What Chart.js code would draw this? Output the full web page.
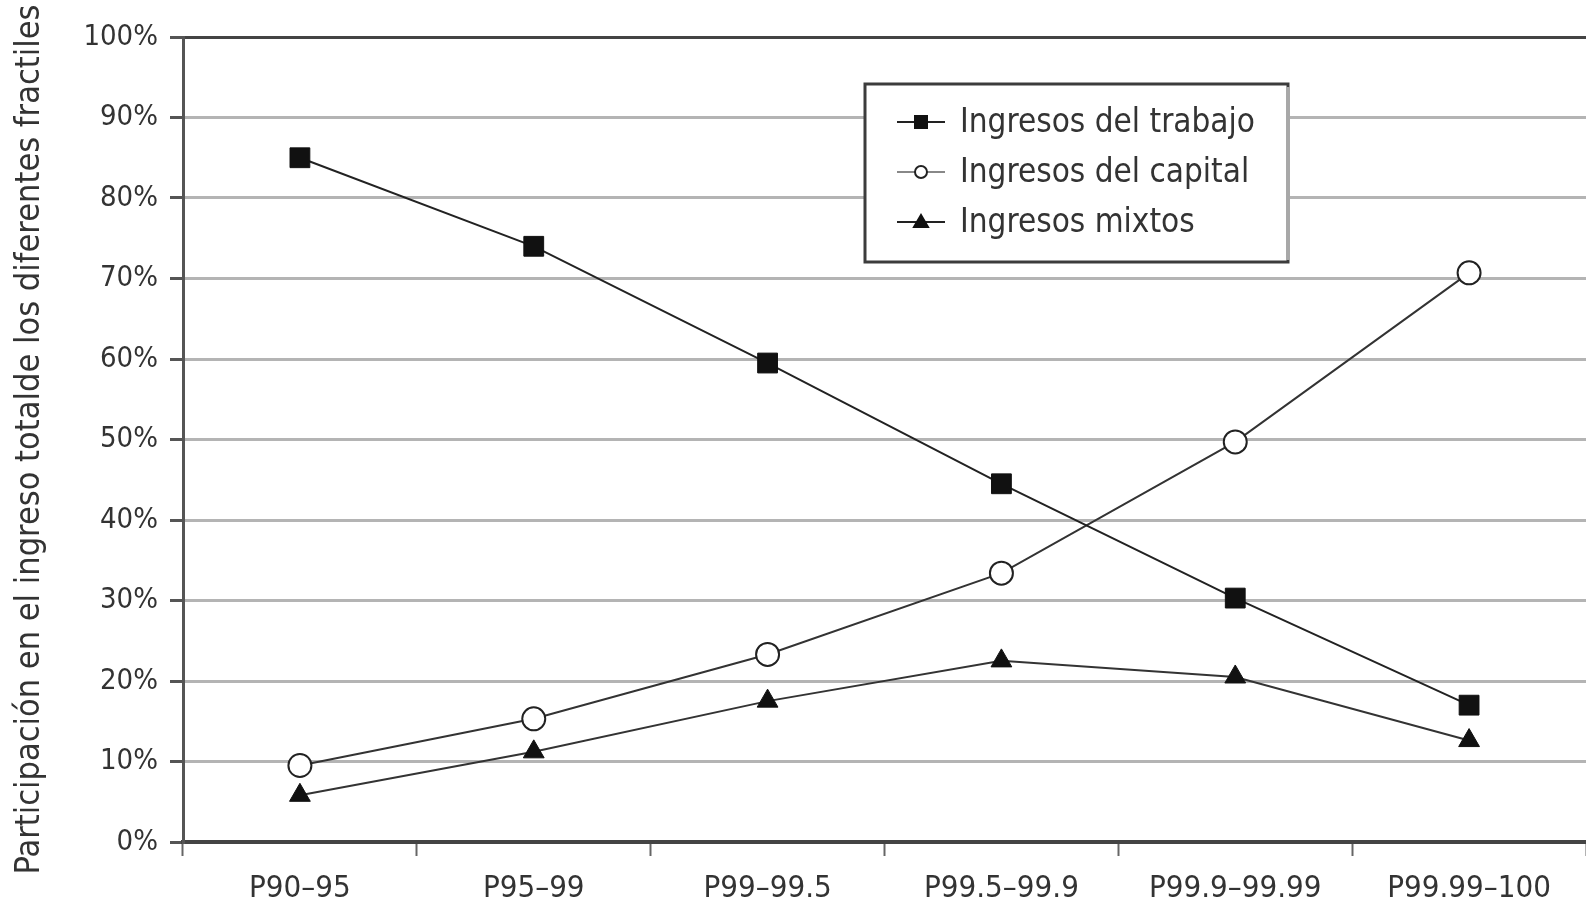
<!DOCTYPE html>
<html>
<head>
<meta charset="utf-8">
<script src="https://cdn.jsdelivr.net/npm/chart.js@4.4.1/dist/chart.umd.min.js"></script>
<style>
  html, body { margin: 0; padding: 0; background: #fff; }
  #wrap { width: 1586px; height: 901px; }
</style>
</head>
<body>
<div id="wrap"><canvas id="chart" width="1586" height="901"></canvas></div>
<script>
// data
const categories = ['P90–95', 'P95–99', 'P99–99.5', 'P99.5–99.9', 'P99.9–99.99', 'P99.99–100'];
const trabajo = [85, 74, 59.5, 44.5, 30.3, 17];
const capital = [9.5, 15.3, 23.3, 33.4, 49.7, 70.7];
const mixtos = [5.8, 11.2, 17.5, 22.5, 20.5, 12.6];
const seriesNames = ['Ingresos del trabajo', 'Ingresos del capital', 'Ingresos mixtos'];
const yTitle = 'Participación en el ingreso totalde los diferentes fractiles';

const FONT = "'DejaVu Sans Condensed', 'Liberation Sans Narrow', 'DejaVu Sans', sans-serif";
const TEXT = '#333';

// small legend box drawn inside the plot, like the original
const boxLegend = {
  id: 'boxLegend',
  afterDraw(chart) {
    const ctx = chart.ctx;
    const x0 = 865, y0 = 84, x1 = 1288, y1 = 262;
    ctx.save();
    ctx.fillStyle = '#fff';
    ctx.fillRect(x0, y0, x1 - x0, y1 - y0);
    ctx.strokeStyle = '#3c3c3c';
    ctx.lineWidth = 3;
    ctx.strokeRect(x0, y0, x1 - x0, y1 - y0);
    ctx.strokeStyle = '#a8a8a8';
    ctx.lineWidth = 4;
    ctx.beginPath();
    ctx.moveTo(x1, y0 + 3);
    ctx.lineTo(x1, y1 - 2);
    ctx.stroke();

    chart.data.datasets.forEach((ds, i) => {
      const y = 122 + i * 50;
      const cx = 921;
      ctx.strokeStyle = i === 1 ? '#888' : '#222';
      ctx.lineWidth = 2;
      ctx.beginPath();
      ctx.moveTo(897, y);
      ctx.lineTo(945, y);
      ctx.stroke();
      ctx.fillStyle = ds.pointBackgroundColor;
      ctx.strokeStyle = ds.pointBorderColor;
      ctx.lineWidth = 2;
      ctx.beginPath();
      if (ds.pointStyle === 'rect') {
        ctx.rect(cx - 6, y - 6, 12, 12);
      } else if (ds.pointStyle === 'circle') {
        ctx.arc(cx, y, 6, 0, Math.PI * 2);
      } else {
        ctx.moveTo(cx, y - 7);
        ctx.lineTo(cx + 7, y + 5);
        ctx.lineTo(cx - 7, y + 5);
        ctx.closePath();
      }
      ctx.fill();
      ctx.stroke();

      ctx.fillStyle = TEXT;
      ctx.font = '33px ' + FONT;
      ctx.textBaseline = 'middle';
      ctx.textAlign = 'left';
      ctx.fillText(ds.label, 960, y + 1);
    });
    ctx.restore();
  }
};

const ctx = document.getElementById('chart').getContext('2d');
new Chart(ctx, {
  type: 'line',
  data: {
    labels: categories,
    datasets: [
      {
        label: seriesNames[0],
        data: trabajo,
        borderColor: '#222',
        borderWidth: 2,
        pointStyle: 'rect',
        pointRadius: 14,
        pointBackgroundColor: '#111',
        pointBorderColor: '#111',
        pointBorderWidth: 1,
        tension: 0
      },
      {
        label: seriesNames[1],
        data: capital,
        borderColor: '#333',
        borderWidth: 2,
        pointStyle: 'circle',
        pointRadius: 11.5,
        pointBackgroundColor: '#fff',
        pointBorderColor: '#222',
        pointBorderWidth: 2,
        tension: 0
      },
      {
        label: seriesNames[2],
        data: mixtos,
        borderColor: '#333',
        borderWidth: 2,
        pointStyle: 'triangle',
        pointRadius: 12,
        pointBackgroundColor: '#111',
        pointBorderColor: '#111',
        pointBorderWidth: 1,
        tension: 0
      }
    ]
  },
  options: {
    responsive: false,
    animation: false,
    layout: { autoPadding: false, padding: { top: 37, right: 0, left: 0, bottom: 0 } },
    plugins: {
      legend: { display: false },
      tooltip: { enabled: false }
    },
    scales: {
      x: {
        offset: true,
        grid: {
          drawOnChartArea: false,
          drawTicks: true,
          tickLength: 14,
          tickColor: '#666',
          tickWidth: 2,
          offset: true
        },
        border: { color: '#444', width: 4 },
        ticks: {
          color: TEXT,
          font: { family: FONT, size: 31 },
          padding: 14,
          maxRotation: 0,
          autoSkip: false
        },
        afterFit(scale) {
          scale.height = 59;
          scale.paddingLeft = 0;
          scale.paddingRight = 0;
        }
      },
      y: {
        min: 0,
        max: 100,
        grid: {
          color: (c) => (c.tick && c.tick.value === 100 ? '#444' : '#b4b4b4'),
          lineWidth: 3,
          tickLength: 13,
          tickColor: '#555',
          tickWidth: 3
        },
        border: { color: '#555', width: 3 },
        ticks: {
          stepSize: 10,
          color: TEXT,
          font: { family: FONT, size: 29 },
          padding: 12,
          callback: (v) => v + '%'
        },
        title: {
          display: true,
          text: yTitle,
          color: TEXT,
          font: { family: FONT, size: 34 },
          padding: { top: 10, bottom: 0 }
        },
        afterFit(scale) {
          scale.width = 183;
          scale.paddingTop = 0;
          scale.paddingBottom = 0;
        }
      }
    }
  },
  plugins: [boxLegend]
});
</script>
</body>
</html>
